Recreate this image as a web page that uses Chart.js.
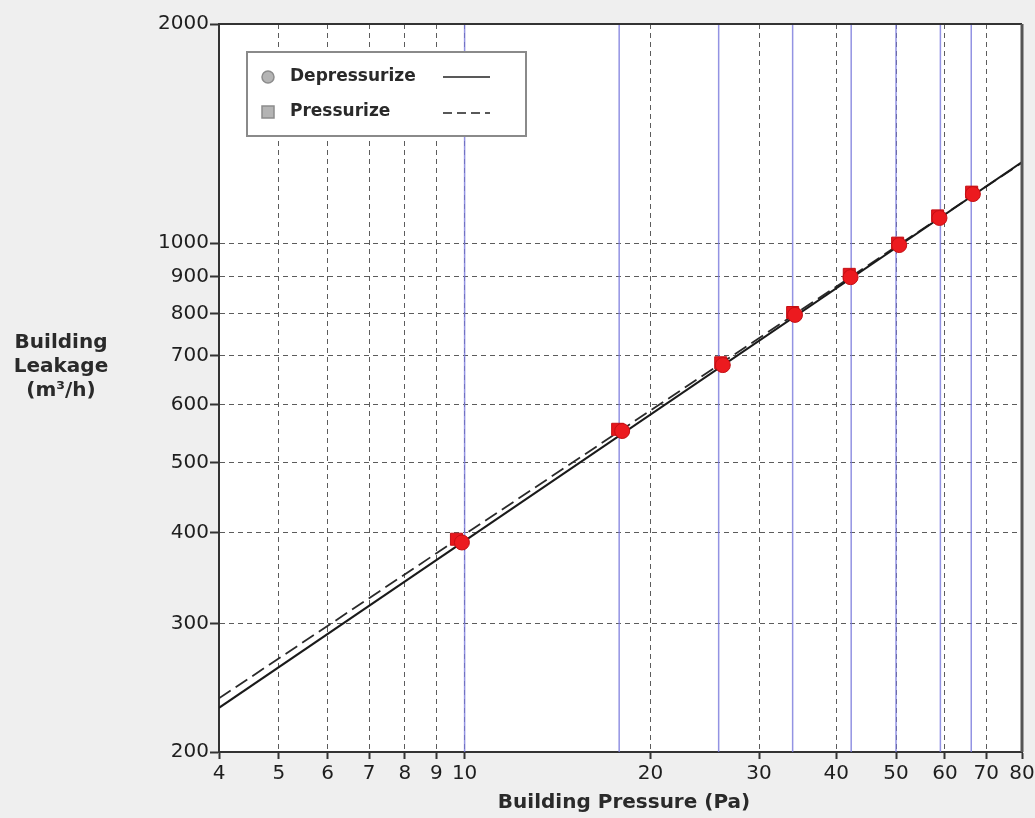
<!DOCTYPE html>
<html>
<head>
<meta charset="utf-8">
<script src="https://cdn.jsdelivr.net/npm/chart.js@4/dist/chart.umd.min.js"></script>
<style>
  html, body { margin: 0; padding: 0; background: #efefef; }
  #wrap { width: 1035px; height: 818px; position: relative; }
</style>
</head>
<body>
<div id="wrap"><canvas id="c" width="1035" height="818"></canvas></div>
<script>
// ---- data ----
const xTicks = [4, 5, 6, 7, 8, 9, 10, 20, 30, 40, 50, 60, 70, 80];
const yTicks = [200, 300, 400, 500, 600, 700, 800, 900, 1000, 2000];

const depPressure = [9.9, 18.0, 26.2, 34.3, 42.2, 50.6, 58.8, 66.6];
const depFlow     = [388, 552, 680, 797, 898, 994, 1083, 1168];

const presPressure = [9.7, 17.7, 26.0, 34.0, 42.0, 50.3, 58.4, 66.3];
const presFlow     = [392, 555, 685, 803, 906, 1000, 1090, 1175];

const depLineP = [4, 80];
const depLineQ = [230, 1292];
const presLineP = [4, 80];
const presLineQ = [237, 1290];

const markPressures = [10, 17.8, 25.8, 34.0, 42.3, 50.0, 59.0, 66.2];
const yRange = [200, 2000];

const legendLabels = ['Depressurize', 'Pressurize'];
const xTitle = 'Building Pressure (Pa)';
const yTitle = ['Building', 'Leakage', '(m³/h)'];

// ---- build datasets ----
const pts = (xs, ys) => xs.map((x, i) => ({ x: x, y: ys[i] }));
const markData = [];
markPressures.forEach(p => {
  markData.push({ x: p, y: yRange[0] }, { x: p, y: yRange[1] }, { x: p, y: null });
});

const tickFont = { family: 'DejaVu Sans', size: 20 };

const decor = {
  id: 'decor',
  beforeDraw(chart) {
    const ctx = chart.ctx, a = chart.chartArea;
    ctx.save();
    ctx.fillStyle = '#efefef';
    ctx.fillRect(0, 0, chart.width, chart.height);
    ctx.fillStyle = '#ffffff';
    ctx.fillRect(a.left, a.top, a.right - a.left, a.bottom - a.top);
    ctx.restore();
  },
  afterDraw(chart) {
    const ctx = chart.ctx, a = chart.chartArea;
    ctx.save();
    // top and right frame
    ctx.strokeStyle = '#333';
    ctx.lineWidth = 2;
    ctx.beginPath();
    ctx.moveTo(a.left, a.top); ctx.lineTo(a.right, a.top);
    ctx.stroke();
    ctx.strokeStyle = '#555';
    ctx.lineWidth = 3;
    ctx.beginPath();
    ctx.moveTo(a.right, a.top); ctx.lineTo(a.right, a.bottom);
    ctx.stroke();

    // legend box
    const lx = 247, ly = 52, lw = 279, lh = 84;
    ctx.fillStyle = '#ffffff';
    ctx.fillRect(lx, ly, lw, lh);
    ctx.strokeStyle = '#8a8a8a';
    ctx.lineWidth = 2;
    ctx.strokeRect(lx, ly, lw, lh);
    // markers
    ctx.fillStyle = '#b4b4b4';
    ctx.strokeStyle = '#8c8c8c';
    ctx.lineWidth = 1.5;
    ctx.beginPath(); ctx.arc(268, 77, 6, 0, Math.PI * 2); ctx.fill(); ctx.stroke();
    ctx.fillRect(262, 106, 12, 12); ctx.strokeRect(262, 106, 12, 12);
    // labels
    ctx.fillStyle = '#2a2a2a';
    ctx.font = 'bold 17px "DejaVu Sans"';
    ctx.textBaseline = 'middle';
    ctx.textAlign = 'left';
    ctx.fillText(legendLabels[0], 290, 77);
    ctx.fillText(legendLabels[1], 290, 112);
    // line samples
    ctx.strokeStyle = '#222';
    ctx.lineWidth = 1.5;
    ctx.beginPath(); ctx.moveTo(443, 77); ctx.lineTo(490, 77); ctx.stroke();
    ctx.setLineDash([9, 5]);
    ctx.beginPath(); ctx.moveTo(443, 113); ctx.lineTo(490, 113); ctx.stroke();
    ctx.setLineDash([]);

    // axis titles
    ctx.font = 'bold 20px "DejaVu Sans"';
    ctx.fillStyle = '#2a2a2a';
    ctx.textAlign = 'center';
    ctx.fillText(xTitle, 624, 803);
    yTitle.forEach((t, i) => ctx.fillText(t, 61, 343 + i * 24));
    ctx.restore();
  }
};

const edgeGrid = (vals) => (ctx) => {
  const v = ctx.tick ? ctx.tick.value : null;
  return (v === vals[0] || v === vals[vals.length - 1]) ? 'rgba(0,0,0,0)' : '#5c5c5c';
};

new Chart(document.getElementById('c'), {
  type: 'scatter',
  data: {
    datasets: [
      {
        label: 'marks', data: markData, showLine: true, spanGaps: false,
        borderColor: 'rgba(120,120,220,0.8)', borderWidth: 1.5, pointRadius: 0, order: 5
      },
      {
        label: 'Pressurize fit', data: pts(presLineP, presLineQ), showLine: true,
        borderColor: '#2a2a2a', borderWidth: 1.8, borderDash: [14, 6], pointRadius: 0, order: 4
      },
      {
        label: 'Depressurize fit', data: pts(depLineP, depLineQ), showLine: true,
        borderColor: '#1a1a1a', borderWidth: 2, pointRadius: 0, order: 3
      },
      {
        label: legendLabels[1], data: pts(presPressure, presFlow),
        pointStyle: 'rect', pointRadius: 8.5, backgroundColor: '#e8161c', borderColor: '#c40f14',
        borderWidth: 1, order: 2
      },
      {
        label: legendLabels[0], data: pts(depPressure, depFlow),
        pointStyle: 'circle', pointRadius: 7.5, backgroundColor: '#ec1a1f', borderColor: '#c40f14',
        borderWidth: 1, order: 1
      }
    ]
  },
  options: {
    responsive: false,
    animation: false,
    events: [],
    layout: { padding: { left: 0, right: 13, top: 24, bottom: 0 } },
    plugins: { legend: { display: false }, tooltip: { enabled: false }, title: { display: false } },
    scales: {
      x: {
        type: 'logarithmic', min: xTicks[0], max: xTicks[xTicks.length - 1],
        afterBuildTicks: s => { s.ticks = xTicks.map(v => ({ value: v })); },
        afterFit: s => { s.height = 66; s.paddingRight = 0; s.paddingLeft = 0; },
        ticks: {
          callback: v => String(v), font: tickFont, color: '#1e1e1e',
          autoSkip: false, maxRotation: 0, padding: 3
        },
        grid: {
          color: edgeGrid(xTicks), lineWidth: 1,
          tickLength: 7, tickColor: '#333', tickWidth: 2, tickBorderDash: []
        },
        border: { display: true, color: '#333', width: 2, dash: [5, 4] }
      },
      y: {
        type: 'logarithmic', min: yTicks[0], max: yTicks[yTicks.length - 1],
        afterBuildTicks: s => { s.ticks = yTicks.map(v => ({ value: v })); },
        afterFit: s => { s.width = 219; s.paddingTop = 0; s.paddingBottom = 0; },
        ticks: {
          callback: v => String(v), font: tickFont, color: '#1e1e1e',
          autoSkip: false, padding: 1
        },
        grid: {
          color: edgeGrid(yTicks), lineWidth: 1,
          tickLength: 9, tickColor: '#333', tickWidth: 2, tickBorderDash: []
        },
        border: { display: true, color: '#333', width: 2, dash: [5, 4] }
      }
    }
  },
  plugins: [decor]
});
</script>
</body>
</html>
